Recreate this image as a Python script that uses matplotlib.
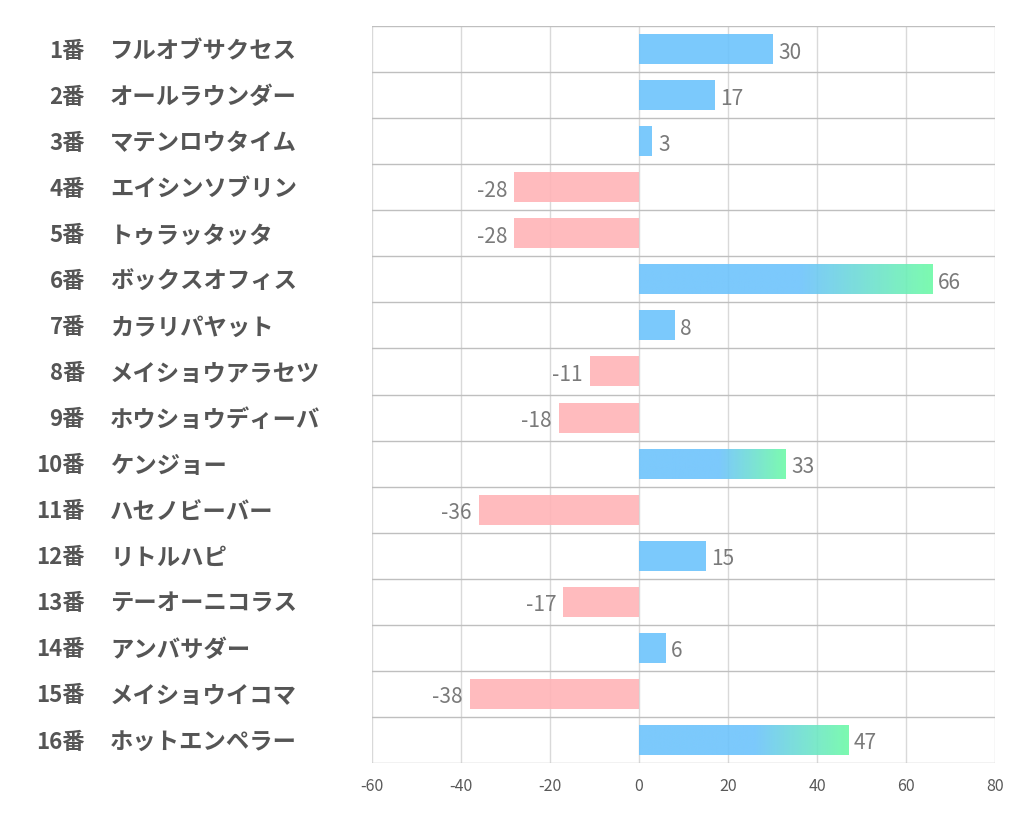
import matplotlib
matplotlib.use('Agg')
import matplotlib.pyplot as plt
import numpy as np

plt.rcParams['font.family'] = ['Noto Sans CJK JP', 'DejaVu Sans']

numbers = ['1番', '2番', '3番', '4番', '5番', '6番', '7番', '8番',
           '9番', '10番', '11番', '12番', '13番', '14番', '15番', '16番']
names = ['フルオブサクセス', 'オールラウンダー', 'マテンロウタイム', 'エイシンソブリン',
         'トゥラッタッタ', 'ボックスオフィス', 'カラリパヤット', 'メイショウアラセツ',
         'ホウショウディーバ', 'ケンジョー', 'ハセノビーバー', 'リトルハピ',
         'テーオーニコラス', 'アンバサダー', 'メイショウイコマ', 'ホットエンペラー']
values = [30, 17, 3, -28, -28, 66, 8, -11, -18, 33, -36, 15, -17, 6, -38, 47]
xticks = [-60, -40, -20, 0, 20, 40, 60, 80]

blue = np.array([109, 195, 252]) / 255
green = np.array([109, 250, 167]) / 255
pink = np.array([255, 180, 183]) / 255
alpha = 0.9
bar_h = 0.65

fig = plt.figure(figsize=(10.22, 8.34), dpi=100)
ax = fig.add_axes([372 / 1022, 1 - 763 / 834, 623 / 1022, 737 / 834])

n = len(values)
ys = np.arange(n)

# grid first so bars sit over it
for x in xticks:
    ax.axvline(x, color='#d9d9d9', lw=1, zorder=0)
for b in np.arange(n + 1) - 0.5:
    ax.axhline(b, color='#bfbfbf', lw=1, zorder=0)

for y, v in zip(ys, values):
    if v < 0:
        ax.barh(y, v, height=bar_h, color=pink, alpha=alpha, zorder=2)
    elif v > 30:
        # blue bar fading to green over the last part of its length
        t = np.linspace(0, 1, 256)
        f = np.clip((t - 0.55) / 0.45, 0, 1)[:, None]
        rgb = blue * (1 - f) + green * f
        img = np.concatenate([rgb, np.full((256, 1), alpha)], axis=1)[None, :, :]
        ax.imshow(img, extent=[0, v, y + bar_h / 2, y - bar_h / 2],
                  aspect='auto', interpolation='bilinear', zorder=2)
    else:
        ax.barh(y, v, height=bar_h, color=blue, alpha=alpha, zorder=2)

    if v < 0:
        ax.annotate(str(v), (v, y), xytext=(-5, -2.5), textcoords='offset points',
                    ha='right', va='center', fontsize=15, color='#7a7a7a')
    else:
        ax.annotate(str(v), (v, y), xytext=(4, -2.5), textcoords='offset points',
                    ha='left', va='center', fontsize=15, color='#7a7a7a')

for y, num, name in zip(ys, numbers, names):
    ax.annotate(num, (-0.4607, y), xycoords=('axes fraction', 'data'),
                xytext=(0, -1.5), textcoords='offset points', ha='right',
                va='center', fontsize=16, fontweight='bold', color='#555555')
    ax.annotate(name, (-0.4205, y), xycoords=('axes fraction', 'data'),
                xytext=(0, -1.5), textcoords='offset points', ha='left',
                va='center', fontsize=16.8, fontweight='bold', color='#555555')

ax.set_xlim(-60, 80)
ax.set_ylim(n - 0.5, -0.5)
ax.set_xticks(xticks)
ax.set_xticklabels([str(x) for x in xticks])
ax.set_yticks([])
ax.tick_params(axis='x', length=0, pad=11, labelsize=11.5, labelcolor='#595959')
for s in ax.spines.values():
    s.set_visible(False)

fig.savefig('out.png', dpi=100)
